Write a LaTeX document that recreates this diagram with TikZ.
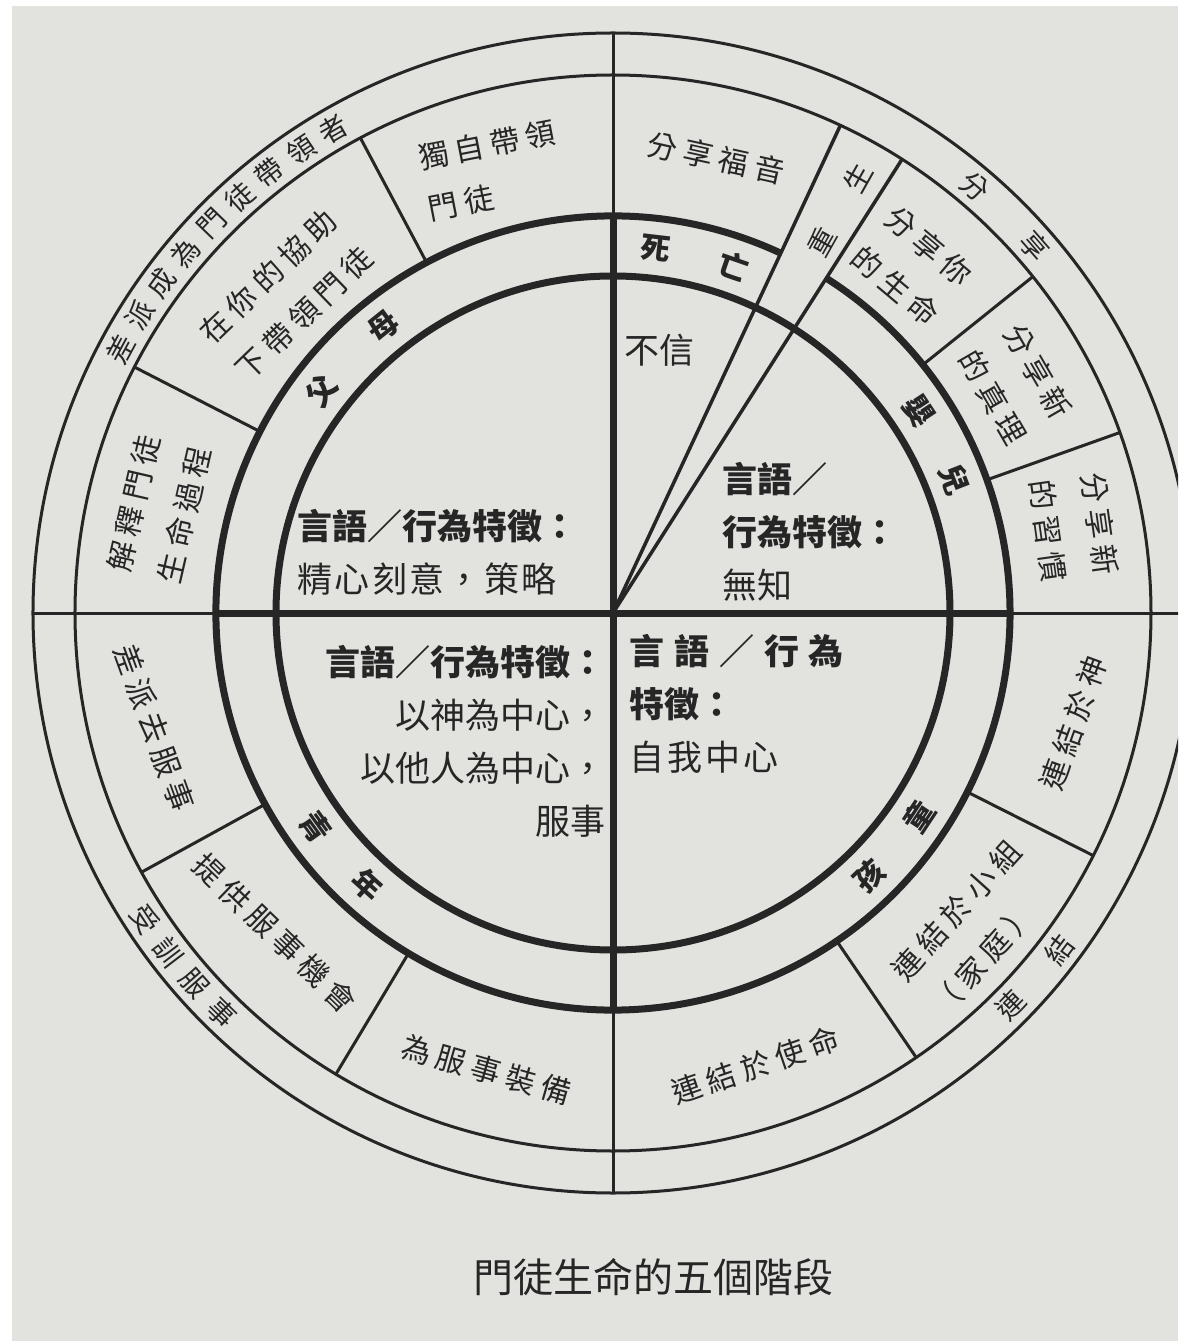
\documentclass[tikz,border=0pt]{standalone}
\usepackage{fontspec}
\setmainfont{Noto Sans CJK TC}
\newcommand{\rOut}{580pt}
\newcommand{\rMid}{538pt}
\newcommand{\rRing}{397pt}
\newcommand{\rIn}{337pt}
\definecolor{paper}{RGB}{226,226,223}
\definecolor{ink}{RGB}{38,38,38}

\begin{document}
\begin{tikzpicture}[x=1pt,y=1pt,
    thinline/.style={ink,line width=3pt},
    thickline/.style={ink,line width=7pt},
    wedgeline/.style={ink,line width=3.5pt},
    stage/.style={ink,inner sep=0pt,font=\bfseries\fontsize{30}{30}\selectfont},
    outer/.style={ink,inner sep=0pt,font=\fontsize{28}{28}\selectfont},
    cell/.style={ink,inner sep=0pt,align=center,font=\fontsize{30}{52}\selectfont\addfontfeature{LetterSpace=21}},
    quad/.style={ink,inner sep=0pt,font=\fontsize{35}{53}\selectfont}]

\useasboundingbox (-613,-728) rectangle (565,613);
\clip (-613,-728) rectangle (565,613);
\fill[paper] (-601,-728) rectangle (565,607);

% rings
\draw[thinline] (0,0) circle (\rOut);
\draw[thinline] (0,0) circle (\rMid);
\draw[thickline] (0,0) circle (\rIn);
\draw[thickline] (65:\rRing) arc[start angle=65, end angle=417.5, radius=\rRing];

% quadrant lines
\foreach \a in {0,90,180,270} {
  \draw[thickline] (0,0) -- (\a:\rRing);
  \draw[thinline] (\a:\rRing) -- (\a:\rOut);
}
% the narrow wedge (rebirth)
\draw[wedgeline] (0,0) -- (65:\rMid);
\draw[wedgeline] (0,0) -- (57.5:\rMid);
% separators in the wide ring
\foreach \a in {118,152.8,38.7,19.6,208.8,239,304.3,333.2}
  \draw[thinline] (\a:\rRing) -- (\a:\rMid);

% stages in the thick ring
\foreach \a/\t [count=\i] in {142.7/父,128.8/母,83.3/死,70.8/亡,33.4/嬰,21.3/兒}
  \node[stage,rotate=\a-90] (stage\i) at (\a:367pt) {\t};
\foreach \a/\t [count=\i] in {-45.8/孩,-33.6/童,215.7/青,227.9/年}
  \node[stage,rotate=\a+90] (lowstage\i) at (\a:367pt) {\t};

% words in the outer ring
\foreach \t [count=\i, evaluate=\i as \a using 155.775-\i*3.975] in {差,派,成,為,門,徒,帶,領,者}
  \node[outer,rotate=\a-90] (send\i) at (\a:559pt) {\t};
\foreach \a/\t [count=\i] in {49.7/分,41/享}
  \node[outer,rotate=\a-90] (share\i) at (\a:559pt) {\t};
\foreach \a/\t [count=\i] in {-44.6/連,-37/結,213.2/受,217.3/訓,221.5/服,225.6/事}
  \node[outer,rotate=\a+90] (lowword\i) at (\a:559pt) {\t};

% steps in the wide ring
\node[cell,align=left,rotate=11] (alone) at (-121,443) {獨自帶領\\門徒};
\node[cell,rotate=44] (help) at (-327,318) {在你的協助\\下帶領門徒};
\node[cell,rotate=77] (explain) at (-454,104) {解釋門徒\\生命過程};
\node[cell,rotate=-12.5] (gospel) at (103,455) {分享福音};
\node[outer,rotate=60.6] (reborn1) at (60.6:426pt) {重};
\node[outer,rotate=60.6] (reborn2) at (60.6:499pt) {生};
\node[cell,rotate=-40] (life) at (299,347) {分享你\\的生命};
\node[cell,rotate=-60] (truth) at (402.5,228.5) {分享新\\的真理};
\node[cell,rotate=-82] (habit) at (461,85.5) {分享新\\的習慣};
\node[cell,rotate=70] (god) at (460.6,-109.9) {連結於神};
\node[cell,align=left,rotate=48] (group) at (363,-315) {連結於小組\\（家庭）};
\node[cell,rotate=19] (mission) at (142.7,-452.5) {連結於使命};
\node[cell,rotate=-16] (equip) at (-126.6,-457.2) {為服事裝備};
\node[cell,rotate=-44] (offer) at (-338.1,-320.2) {提供服事機會};
\node[cell,rotate=-70] (sent) at (-458.8,-114.6) {差派去服事};

% talk and behaviour in the four quarters
\node[quad,align=left,anchor=west] (parentTalk) at (-316,60)
  {{\bfseries 言語／行為特徵：}\\{\addfontfeature{LetterSpace=7}精心刻意，策略}};
\node[quad] (unbelief) at (46,263) {不信};
\node[quad,align=left,anchor=west] (infantTalk) at (109,81.5)
  {{\bfseries 言語／}\\{\bfseries 行為特徵：}\\無知};
\node[quad,align=right,anchor=east] (youthTalk) at (-7,-128.5)
  {{\bfseries 言語／行為特徵：}\\以神為中心，\\以他人為中心，\\服事};
\node[quad,align=left,anchor=west] (childTalk) at (16.5,-91)
  {{\bfseries\addfontfeature{LetterSpace=28}言語／行為}\\{\bfseries 特徵：}\\{\addfontfeature{LetterSpace=8}自我中心}};

% caption
\node[ink,font=\fontsize{40}{40}\selectfont] (title) at (40.5,-664) {門徒生命的五個階段};
\end{tikzpicture}
\end{document}
